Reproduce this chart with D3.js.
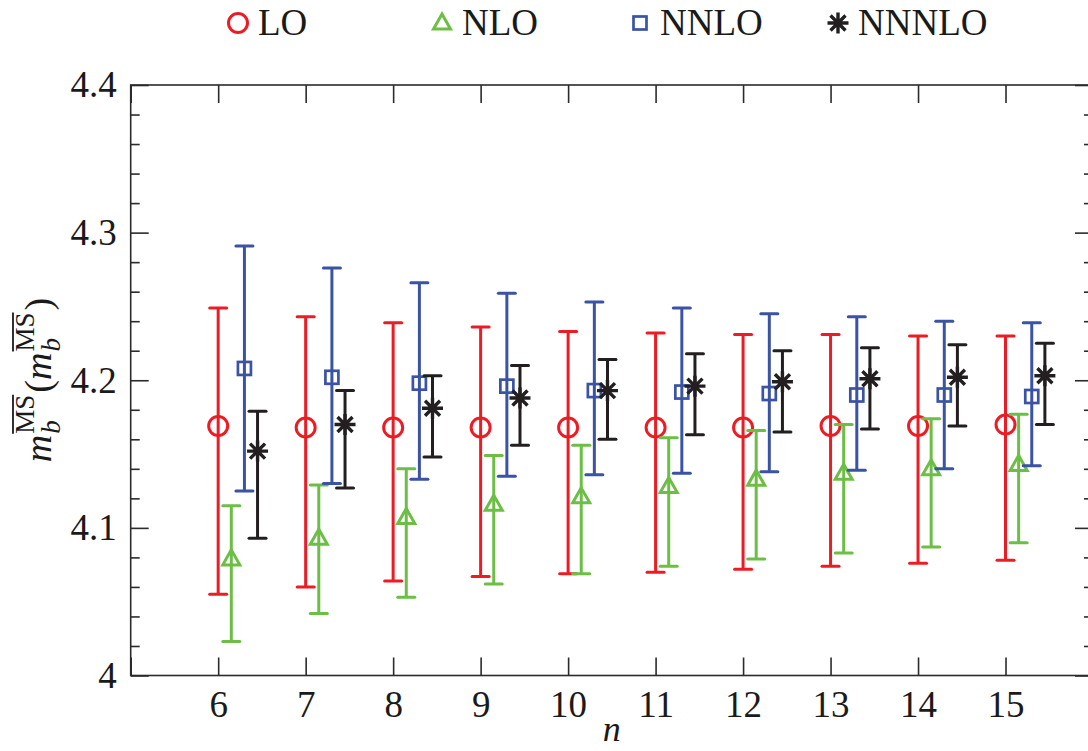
<!DOCTYPE html>
<html><head><meta charset="utf-8">
<script src="https://cdn.jsdelivr.net/npm/d3@7"></script>
<style>
html,body{margin:0;padding:0;background:#fff;}
svg{display:block;font-family:"Liberation Serif","DejaVu Serif",serif;}
</style></head>
<body>
<svg id="chart" width="1088" height="751"></svg>
<script>
// ---- data ----
const nValues = [6, 7, 8, 9, 10, 11, 12, 13, 14, 15];
const seriesNames = ["LO", "NLO", "NNLO", "NNNLO"];
const seriesColors = ["#ED1C24", "#6CBE45", "#3A53A4", "#231F20"];
const seriesOffsets = [0, 0.15, 0.30, 0.45];

const loCenter = [4.169, 4.168, 4.168, 4.168, 4.168, 4.168, 4.168, 4.169, 4.169, 4.170];
const loHigh   = [4.249, 4.243, 4.239, 4.236, 4.233, 4.232, 4.231, 4.231, 4.230, 4.230];
const loLow    = [4.055, 4.060, 4.064, 4.067, 4.069, 4.070, 4.072, 4.074, 4.076, 4.078];

const nloCenter = [4.079, 4.093, 4.107, 4.116, 4.121, 4.128, 4.133, 4.137, 4.140, 4.143];
const nloHigh   = [4.115, 4.129, 4.140, 4.149, 4.156, 4.161, 4.166, 4.170, 4.174, 4.177];
const nloLow    = [4.023, 4.042, 4.053, 4.062, 4.069, 4.074, 4.079, 4.083, 4.087, 4.090];

const nnloCenter = [4.208, 4.202, 4.198, 4.196, 4.193, 4.192, 4.191, 4.190, 4.190, 4.189];
const nnloHigh   = [4.291, 4.276, 4.266, 4.259, 4.253, 4.249, 4.245, 4.243, 4.240, 4.239];
const nnloLow    = [4.125, 4.130, 4.133, 4.135, 4.136, 4.137, 4.138, 4.139, 4.140, 4.142];

const nnnloCenter = [4.152, 4.170, 4.181, 4.188, 4.193, 4.196, 4.199, 4.201, 4.202, 4.203];
const nnnloHigh   = [4.179, 4.193, 4.203, 4.210, 4.214, 4.218, 4.220, 4.222, 4.224, 4.225];
const nnnloLow    = [4.093, 4.127, 4.148, 4.156, 4.160, 4.163, 4.165, 4.167, 4.169, 4.170];

const yTickValues = [4, 4.1, 4.2, 4.3, 4.4];
const yTickLabels = ["4", "4.1", "4.2", "4.3", "4.4"];
const xTickValues = [5, 6, 7, 8, 9, 10, 11, 12, 13, 14, 15, 16];
const xTickLabels = ["", "6", "7", "8", "9", "10", "11", "12", "13", "14", "15", ""];

const series = [
  {center: loCenter, high: loHigh, low: loLow},
  {center: nloCenter, high: nloHigh, low: nloLow},
  {center: nnloCenter, high: nnloHigh, low: nnloLow},
  {center: nnnloCenter, high: nnnloHigh, low: nnnloLow}
];

// ---- layout ----
const svg = d3.select("#chart");
const x = d3.scaleLinear().domain([5, 16]).range([130.7, 1093]);
const y = d3.scaleLinear().domain([4, 4.4]).range([675.5, 85]);
const axisColor = "#2b2b2b";
const fontSize = 37;

// frame
svg.append("rect")
  .attr("x", x(5)).attr("y", y(4.4))
  .attr("width", x(16) - x(5)).attr("height", y(4) - y(4.4))
  .attr("fill", "none").attr("stroke", axisColor).attr("stroke-width", 1.6);

function styleAxis(g) {
  g.select(".domain").remove();
  g.selectAll(".tick line").attr("stroke", axisColor).attr("stroke-width", 1.6);
  g.selectAll(".tick text").attr("fill", "#1a1a1a").attr("font-size", fontSize)
    .attr("font-family", "'Liberation Serif', serif");
}

const yMinor = d3.range(4, 4.4001, 0.02).filter(v => Math.abs(Math.round(v * 10) - v * 10) > 1e-6);

// left axis
svg.append("g").attr("transform", `translate(${x(5)},0)`)
  .call(d3.axisLeft(y).tickValues(yTickValues).tickSize(-18).tickPadding(14)
    .tickFormat((d, i) => yTickLabels[i]))
  .call(styleAxis);
svg.append("g").attr("transform", `translate(${x(5)},0)`)
  .call(d3.axisLeft(y).tickValues(yMinor).tickSize(-9).tickFormat(""))
  .call(styleAxis);
// right axis
svg.append("g").attr("transform", `translate(${x(16)},0)`)
  .call(d3.axisRight(y).tickValues(yTickValues).tickSize(-18).tickFormat(""))
  .call(styleAxis);
svg.append("g").attr("transform", `translate(${x(16)},0)`)
  .call(d3.axisRight(y).tickValues(yMinor).tickSize(-9).tickFormat(""))
  .call(styleAxis);
// bottom axis
svg.append("g").attr("transform", `translate(0,${y(4)})`)
  .call(d3.axisBottom(x).tickValues(xTickValues).tickSize(-18).tickPadding(15)
    .tickFormat((d, i) => xTickLabels[i]))
  .call(styleAxis);
// top axis
svg.append("g").attr("transform", `translate(0,${y(4.4)})`)
  .call(d3.axisTop(x).tickValues(xTickValues).tickSize(-18).tickFormat(""))
  .call(styleAxis);

// x label
svg.append("text").attr("x", x(10.5)).attr("y", 741)
  .attr("text-anchor", "middle").attr("font-size", 36)
  .attr("font-style", "italic").attr("fill", "#1a1a1a").text("n");

// y label: m_b^{MS-bar}(m_b^{MS-bar})
(function () {
  const g = svg.append("g").attr("transform", "translate(51,380) rotate(-90)");
  const main = 38, scr = 27;
  let cx = 0;
  const parts = [];
  function addText(str, size, italic, dy) {
    const t = g.append("text").attr("x", cx).attr("y", dy).attr("font-size", size)
      .attr("font-style", italic ? "italic" : "normal").attr("fill", "#1a1a1a").text(str);
    parts.push(t);
    return t;
  }
  function mPart() {
    const m = addText("m", main, true, 0);
    cx += m.node().getComputedTextLength() + 1;
    const start = cx;
    const b = addText("b", scr, true, 9);
    const wb = b.node().getComputedTextLength();
    cx = start;
    const ms = addText("MS", scr, false, -17);
    const wms = ms.node().getComputedTextLength();
    const line = g.append("line").attr("x1", start).attr("x2", start + wms)
      .attr("y1", -38).attr("y2", -38).attr("stroke", "#1a1a1a").attr("stroke-width", 1.8);
    parts.push(line);
    cx = start + Math.max(wb, wms) + 2;
  }
  mPart();
  const p1 = addText("(", main, false, 0);
  cx += p1.node().getComputedTextLength();
  mPart();
  const p2 = addText(")", main, false, 0);
  cx += p2.node().getComputedTextLength();
  const total = cx;
  parts.forEach(p => {
    if (p.node().tagName === "line") {
      p.attr("x1", +p.attr("x1") - total / 2).attr("x2", +p.attr("x2") - total / 2);
    } else {
      p.attr("x", +p.attr("x") - total / 2);
    }
  });
})();

// ---- markers ----
function drawMarker(g, type, cx, cy, color) {
  const sw = 3;
  if (type === 0) {
    g.append("circle").attr("cx", cx).attr("cy", cy).attr("r", 9.5)
      .attr("fill", "none").attr("stroke", color).attr("stroke-width", sw);
  } else if (type === 1) {
    g.append("path").attr("d", `M${cx},${cy - 9}L${cx + 8.5},${cy + 6}L${cx - 8.5},${cy + 6}Z`)
      .attr("fill", "none").attr("stroke", color).attr("stroke-width", sw).attr("stroke-linejoin", "miter");
  } else if (type === 2) {
    g.append("rect").attr("x", cx - 6.5).attr("y", cy - 6.5).attr("width", 13).attr("height", 13)
      .attr("fill", "none").attr("stroke", color).attr("stroke-width", 2.7);
  } else {
    const a = 10.5, d = 7.5;
    g.append("path")
      .attr("d", `M${cx - a},${cy}L${cx + a},${cy}M${cx},${cy - a}L${cx},${cy + a}` +
                 `M${cx - d},${cy - d}L${cx + d},${cy + d}M${cx - d},${cy + d}L${cx + d},${cy - d}`)
      .attr("fill", "none").attr("stroke", color).attr("stroke-width", 3.4);
  }
}

const plot = svg.append("g");
series.forEach((s, si) => {
  const color = seriesColors[si];
  const gs = plot.append("g");
  nValues.forEach((n, i) => {
    const px = x(n + seriesOffsets[si]);
    const cap = 8.5;
    gs.append("line").attr("x1", px).attr("x2", px)
      .attr("y1", y(s.low[i])).attr("y2", y(s.high[i]))
      .attr("stroke", color).attr("stroke-width", 3);
    [s.low[i], s.high[i]].forEach(v => {
      gs.append("line").attr("x1", px - cap).attr("x2", px + cap)
        .attr("y1", y(v)).attr("y2", y(v))
        .attr("stroke", color).attr("stroke-width", 3).attr("stroke-linecap", "round");
    });
    drawMarker(gs, si, px, y(s.center[i]), color);
  });
});

// ---- legend ----
const legendMarkerX = [238, 442, 640, 838];
const legend = svg.append("g");
seriesNames.forEach((name, i) => {
  drawMarker(legend, i, legendMarkerX[i], 23, seriesColors[i]);
  legend.append("text").attr("x", legendMarkerX[i] + 20).attr("y", 35)
    .attr("font-size", fontSize).attr("fill", "#1a1a1a").text(name);
});
</script>
</body></html>
